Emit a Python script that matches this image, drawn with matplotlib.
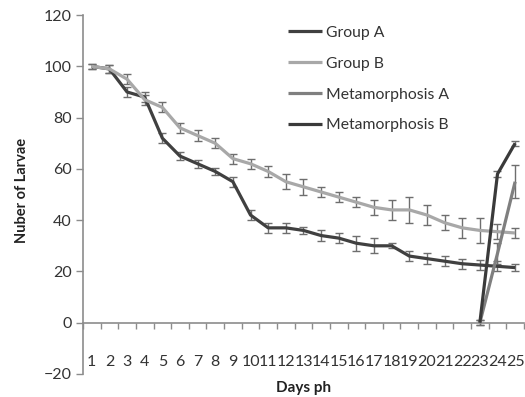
import numpy as np
import matplotlib
matplotlib.use("Agg")
import matplotlib.pyplot as plt
from matplotlib.ticker import FixedLocator, NullFormatter, FixedFormatter

plt.rcParams['font.family'] = ['Lato', 'DejaVu Sans']

days = list(range(1, 26))
day_labels = [str(d) for d in days]

group_a = [100, 99, 90, 88, 72, 65, 62, 59, 55, 42, 37, 37, 36, 34, 33, 31, 30, 30, 26, 25, 24, 23, 22.5, 22, 21.5]
group_a_err = [1, 1.5, 2, 2, 2, 1.5, 1.5, 1.5, 2, 2, 2, 2, 1.5, 2, 2, 3, 3, 1, 2, 2, 2, 2, 2, 2, 1.5]
group_b = [100, 99, 95, 87, 84, 76, 73, 70, 64, 62, 59, 55, 53, 51, 49, 47, 45, 44, 44, 42, 39, 37, 36, 35.5, 35]
group_b_err = [1, 1.5, 2, 2, 2, 2, 2, 2, 2, 2, 2, 3, 3, 2, 2, 2, 3, 4, 5, 4, 3, 4, 5, 3, 2]
meta_a = [np.nan] * 22 + [0, 27, 55]
meta_a_err = [np.nan] * 22 + [1, 4, 6.5]
meta_b = [np.nan] * 22 + [0, 58, 70]
meta_b_err = [np.nan] * 22 + [1, 1, 1]

fig = plt.figure(figsize=(5.25, 3.97), dpi=100)
ax = fig.add_axes([0.158, 0.058, 0.84, 0.904])

series = [
    ("Group A", group_a, group_a_err, "#404040"),
    ("Group B", group_b, group_b_err, "#a8a8a8"),
    ("Metamorphosis A", meta_a, meta_a_err, "#7f7f7f"),
    ("Metamorphosis B", meta_b, meta_b_err, "#3a3a3a"),
]
handles = []
for name, vals, err, col in series:
    ax.errorbar(days, vals, yerr=err, fmt='none', ecolor='#6e6e6e', elinewidth=1.0,
                capsize=2.6, capthick=1.0, zorder=2)
    ln, = ax.plot(days, vals, color=col, lw=2.3, label=name, zorder=3,
                  solid_capstyle='butt')
    handles.append(ln)

ax.set_xlim(0.5, 25.5)
ax.set_ylim(-20, 120)
ax.set_yticks(range(-20, 121, 20))

for s in ['top', 'right']:
    ax.spines[s].set_visible(False)
ax.spines['bottom'].set_position(('data', 0))
ax.spines['left'].set_color('#8c8c8c')
ax.spines['bottom'].set_color('#8c8c8c')
ax.spines['left'].set_linewidth(1.2)
ax.spines['bottom'].set_linewidth(1.2)

ax.xaxis.set_major_locator(FixedLocator(np.arange(0.5, 25.6, 1)))
ax.xaxis.set_major_formatter(NullFormatter())
ax.xaxis.set_minor_locator(FixedLocator(days))
ax.xaxis.set_minor_formatter(FixedFormatter(day_labels))
ax.tick_params(axis='x', which='major', direction='out', length=4, color='#8c8c8c', width=1)
ax.tick_params(axis='x', which='minor', length=0, pad=23, labelsize=11.5, labelcolor='#333333')
ax.tick_params(axis='y', direction='out', length=5, color='#8c8c8c', width=1,
               labelsize=11.5, labelcolor='#333333', pad=3)

fig.text(0.579, 0.022, "Days ph", ha='center', va='center', fontsize=11,
         fontweight='bold', color='#222222')
fig.text(0.042, 0.52, "Nuber of Larvae", ha='center', va='center', fontsize=10.5,
         fontweight='bold', color='#222222', rotation=90)

ax.legend(handles=handles, loc='upper left', bbox_to_anchor=(0.432, 1.01), frameon=False,
          fontsize=11.3, handlelength=2.2, handletextpad=0.25, labelspacing=1.08,
          labelcolor='#333333')

fig.savefig("out.png", dpi=100)
